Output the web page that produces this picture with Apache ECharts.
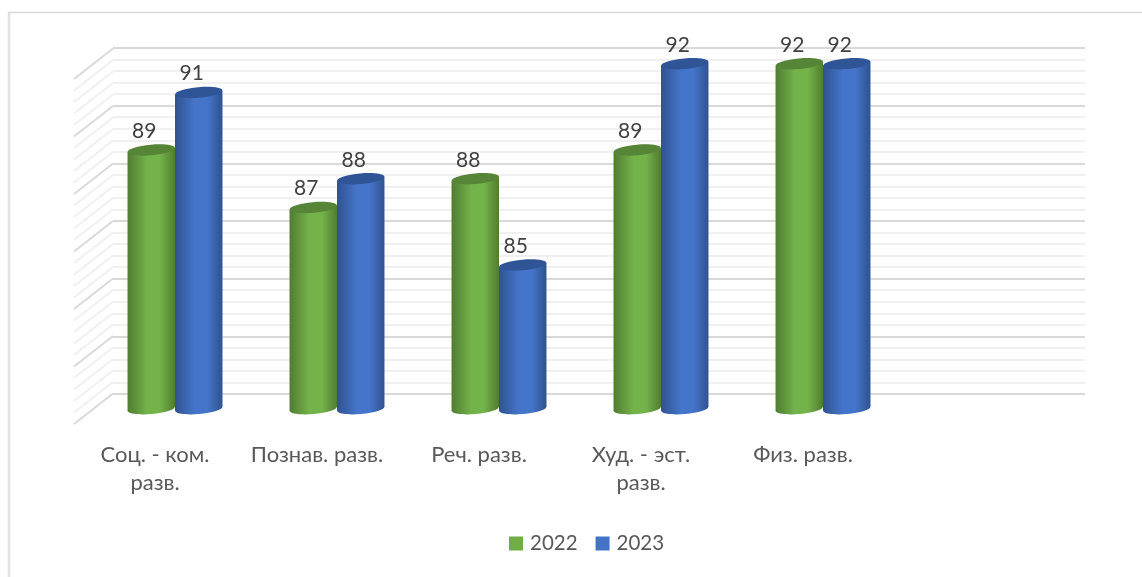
<!DOCTYPE html>
<html><head><meta charset="utf-8">
<style>html,body{margin:0;padding:0;background:#fff}#c{width:1142px;height:577px}</style>
<script src="https://cdn.jsdelivr.net/npm/echarts@6/dist/echarts.min.js"></script>
</head><body><div id="c"></div>
<script>
const categories = ['Соц. - ком.\nразв.', 'Познав. разв.', 'Реч. разв.', 'Худ. - эст.\nразв.', 'Физ. разв.', ''];
const values2022 = [89, 87, 88, 89, 92, null];
const values2023 = [91, 88, 85, 92, 92, null];
const wallTicks = [80,80.4,80.8,81.2,81.6,82,82.4,82.8,83.2,83.6,84,84.4,84.8,85.2,85.6,86,86.4,86.8,87.2,87.6,88,88.4,88.8,89.2,89.6,90,90.4,90.8,91.2,91.6,92];
const majorTicks = [80,82,84,86,88,90,92];

const DX = 39, DY = 30.5;
function grad(edge, mid) {
  return {type:'linear',x:0,y:0,x2:1,y2:0,colorStops:[
    {offset:0,color:edge},{offset:0.42,color:mid},{offset:0.68,color:mid},{offset:1,color:edge}]};
}
function cylinder(side, edge, mid, topColor) {
  return function(params, api) {
    const i = api.value(0), v = api.value(1);
    if (v == null || isNaN(v)) return null;
    const band = api.size([1,0])[0], w = band * 0.293;
    const c = api.coord([i, v]), b = api.coord([i, 80]);
    const x0 = c[0] + DX/2 + 0.5 + (side < 0 ? -w : 0), x1 = x0 + w, xc = x0 + w/2;
    const yt = c[1] - DY/2, yb = b[1] - DY/2, rx = w/2, ry = 5.3, rot = 0.085, tilt = w/2*Math.sin(rot);
    return {type:'group',children:[
      {type:'ellipse',shape:{cx:xc,cy:yb,rx:rx,ry:ry},rotation:rot,originX:xc,originY:yb,style:{fill:grad(edge,mid)}},
      {type:'polygon',shape:{points:[[x0,yt+tilt],[x1,yt-tilt],[x1,yb-tilt],[x0,yb+tilt]]},style:{fill:grad(edge,mid)}},
      {type:'ellipse',shape:{cx:xc,cy:yt,rx:rx,ry:ry},rotation:rot,originX:xc,originY:yt,style:{fill:topColor}},
      {type:'text',style:{text:String(v),x:xc-7,y:yt-19,align:'center',verticalAlign:'middle',font:'21px Lato',fill:'#404040'}}
    ]};
  };
}
const chart = echarts.init(document.getElementById('c'), null, {renderer:'canvas'});
chart.setOption({
  animation:false,
  backgroundColor:'#fff',
  graphic:[
    {type:'line',silent:true,z:-1,shape:{x1:9,y1:12,x2:9,y2:577},style:{stroke:'#e2e2e2',lineWidth:2.5}},
    {type:'line',silent:true,z:-1,shape:{x1:8,y1:12.5,x2:1142,y2:12.5},style:{stroke:'#d9d9d9',lineWidth:1.5}}
  ],
  legend:{data:['2022','2023'],left:509,top:533,padding:0,icon:'rect',itemWidth:14,itemHeight:14,itemGap:18,
    textStyle:{fontFamily:'Lato',fontSize:20.5,color:'#595959',padding:[0,0,0,2]}},
  grid:[
    {left:74,top:79,width:972,height:345},
    {left:113,top:48,width:972,height:346}
  ],
  xAxis:[
    {type:'category',gridIndex:0,data:categories,axisLine:{show:false},axisTick:{show:false},
      axisLabel:{interval:0,margin:17,fontFamily:'Lato',fontSize:22,lineHeight:28,color:'#595959',verticalAlign:'top'}},
    {type:'category',gridIndex:1,data:categories,show:false}
  ],
  yAxis:[
    {type:'value',gridIndex:0,min:80,max:92,interval:2,show:false,splitLine:{show:false}},
    {type:'value',gridIndex:1,min:80,max:92,interval:2,axisLine:{show:false},axisTick:{show:false},axisLabel:{show:false},
      splitLine:{show:true,lineStyle:{color:'#d9d9d9',width:2}},
      minorTick:{show:false,splitNumber:5},
      minorSplitLine:{show:true,lineStyle:{color:'#f0f0f0',width:2}}}
  ],
  series:[
    {type:'custom',name:'wall',silent:true,xAxisIndex:0,yAxisIndex:0,z:1,clip:false,
      data:wallTicks.map(t=>[0,t]),encode:{x:0,y:1},
      renderItem:function(p,api){
        const v=api.value(1), c=api.coord([0,v]), x=p.coordSys.x;
        const major=majorTicks.indexOf(v)>=0;
        return {type:'line',shape:{x1:x,y1:c[1],x2:x+DX,y2:c[1]-DY},style:{stroke:major?'#d9d9d9':'#f0f0f0',lineWidth:2}};
      }},
    {type:'custom',name:'2022',xAxisIndex:0,yAxisIndex:0,z:3,clip:false,itemStyle:{color:'#70AD47'},
      data:values2022.map((v,i)=>[i,v]),encode:{x:0,y:1},
      renderItem:cylinder(-1,'#507c32','#74B34A','#578537')},
    {type:'custom',name:'2023',xAxisIndex:0,yAxisIndex:0,z:4,clip:false,itemStyle:{color:'#4472C4'},
      data:values2023.map((v,i)=>[i,v]),encode:{x:0,y:1},
      renderItem:cylinder(1,'#305290','#4575CA','#2F5597')}
  ]
});
</script></body></html>
